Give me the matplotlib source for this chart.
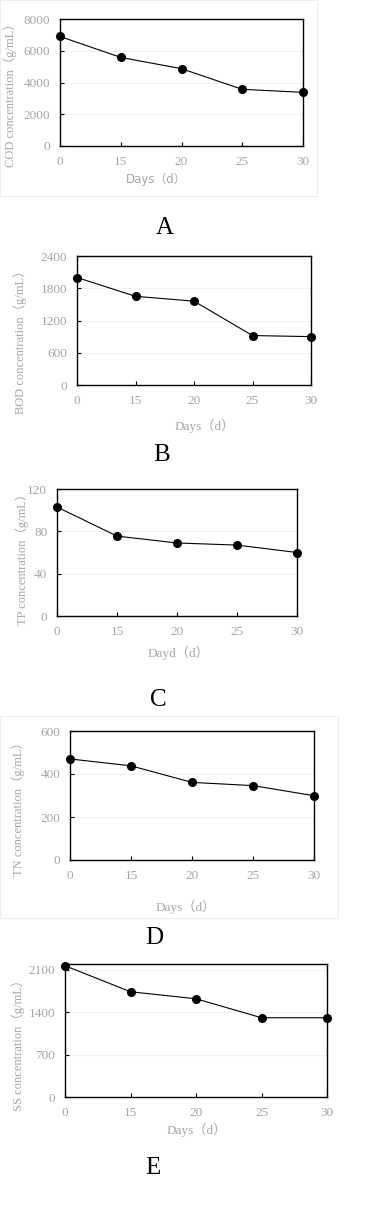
import matplotlib
matplotlib.use("Agg")
import matplotlib.pyplot as plt
from matplotlib.patches import Rectangle

W, H = 376, 1220
SERIF = ['Liberation Serif', 'Noto Sans CJK SC']
SANS = ['DejaVu Sans', 'Noto Sans CJK SC']
GRAY = '#a6a6a6'

days = ['0', '15', '20', '25', '30']

cod = [6900, 5580, 4870, 3570, 3380]
bod = [2000, 1650, 1560, 920, 900]
tp = [103, 75.5, 69, 67, 60]
tn = [470, 438, 361, 346, 299]
ss = [2165, 1735, 1620, 1307, 1307]

cod_ticks = [0, 2000, 4000, 6000, 8000]
bod_ticks = [0, 600, 1200, 1800, 2400]
tp_ticks = [0, 40, 80, 120]
tn_ticks = [0, 200, 400, 600]
ss_ticks = [0, 700, 1400, 2100]


def px_rect(left, top, right, bottom):
    return [left / W, 1 - bottom / H, (right - left) / W, (bottom - top) / H]


def ftext(fig, x, y, s, **kw):
    fig.text(x / W, 1 - y / H, s, ha='center', va='center', **kw)


def panel(fig, box, values, yticks, ymax, ylabel, xlabel, letter, pos, xfam=SERIF):
    ax = fig.add_axes(px_rect(*box))
    ax.plot(range(len(values)), values, color='black', lw=0.8,
            marker='o', ms=5.5, clip_on=False, zorder=3)
    ax.set_xlim(0, len(values) - 1)
    ax.set_ylim(0, ymax)
    ax.set_xticks(range(len(days)))
    ax.set_xticklabels(days)
    ax.set_yticks(yticks)
    for t in yticks[1:]:
        ax.axhline(t, color='#f2f2f2', lw=0.8, zorder=0)
    ax.tick_params(direction='in', length=3, width=0.8, colors='black',
                   labelcolor=GRAY, labelsize=9.5)
    ax.tick_params(axis='x', pad=7)
    ax.tick_params(axis='y', pad=7)
    for lab in ax.get_xticklabels() + ax.get_yticklabels():
        lab.set_family(SERIF)
    for sp in ax.spines.values():
        sp.set_color('black')
        sp.set_linewidth(1.0)
    (ylx, yly), (xlx, xly), (lx, ly) = pos
    ftext(fig, ylx, yly, ylabel, rotation=90, color=GRAY, fontsize=9, family=SERIF)
    ftext(fig, xlx, xly, xlabel, color=GRAY, fontsize=8.5 if xfam is SANS else 9.5, family=xfam)
    ftext(fig, lx, ly, letter, color='black', fontsize=18, family=SERIF)
    return ax


fig = plt.figure(figsize=(W / 100, H / 100), dpi=100)

# faint frames around panel A and D
fig.patches.append(Rectangle((0, 1 - 196 / H), 317 / W, 196 / H, transform=fig.transFigure,
                             fill=False, edgecolor='#eeeeee', lw=0.8))
fig.patches.append(Rectangle((0, 1 - 918 / H), 338 / W, (918 - 716) / H, transform=fig.transFigure,
                             fill=False, edgecolor='#eeeeee', lw=0.8))

panel(fig, (60, 19, 303, 146), cod, cod_ticks, 8000,
      'COD concentration（g/mL）', 'Days（d）', 'A',
      ((10, 92), (156, 179), (165, 228)), xfam=SANS)
panel(fig, (77, 256, 311, 385), bod, bod_ticks, 2400,
      'BOD concentration（g/mL）', 'Days（d）', 'B',
      ((20, 339), (205, 426), (162, 455)))
panel(fig, (57, 489, 297, 616), tp, tp_ticks, 120,
      'TP concentration（g/mL）', 'Dayd（d）', 'C',
      ((22, 556), (179, 653), (158, 700)))
panel(fig, (70, 731, 314, 860), tn, tn_ticks, 600,
      'TN concentration（g/mL）', 'Days（d）', 'D',
      ((18, 806), (186, 907), (154, 938)))
panel(fig, (65, 964, 327, 1097), ss, ss_ticks, 2193,
      'SS concentration（g/mL）', 'Days（d）', 'E',
      ((18, 1042), (197, 1130), (153, 1168)))

fig.savefig('out.png', dpi=100)
